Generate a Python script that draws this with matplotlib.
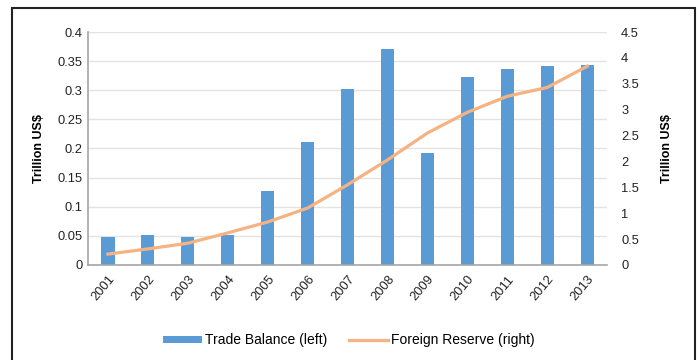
import numpy as np
import matplotlib.pyplot as plt
from matplotlib.patches import Rectangle

plt.rcParams['font.family'] = ['Liberation Sans', 'DejaVu Sans']

years = ['2001', '2002', '2003', '2004', '2005', '2006', '2007',
         '2008', '2009', '2010', '2011', '2012', '2013']
trade_balance = [0.048, 0.052, 0.048, 0.052, 0.127, 0.212, 0.302,
                 0.371, 0.192, 0.322, 0.337, 0.342, 0.343]
foreign_reserve = [0.21, 0.31, 0.42, 0.62, 0.83, 1.10, 1.55,
                   2.03, 2.55, 2.95, 3.26, 3.43, 3.84]

bar_color = '#5B9BD5'
line_color = '#F5B383'

fig = plt.figure(figsize=(6.98, 3.6), dpi=100)
fig.patches.append(Rectangle((12 / 698, -0.1), 683 / 698, 1.1 - 8 / 360,
                             transform=fig.transFigure, fill=False,
                             edgecolor='#222222', linewidth=1.5))

ax = fig.add_axes([0.126, 0.264, 0.744, 0.647])
x = np.arange(len(years))
bars = ax.bar(x, trade_balance, width=0.33, color=bar_color, zorder=2,
              label='Trade Balance (left)')
ax.set_xlim(-0.5, len(years) - 0.5)
ax.set_ylim(0, 0.4)
ax.set_yticks(np.arange(0, 0.401, 0.05))
ax.set_yticklabels(['0', '0.05', '0.1', '0.15', '0.2', '0.25', '0.3', '0.35', '0.4'])
ax.set_xticks(x)
ax.set_xticklabels(years, rotation=50, ha='right', rotation_mode='anchor')
ax.grid(axis='y', color='#E3E3E3', linewidth=1, zorder=0)
ax.tick_params(length=0, labelsize=9.3, pad=4, labelcolor='#222222')
ax.tick_params(axis='x', pad=6)
for s in ['top', 'right']:
    ax.spines[s].set_visible(False)
for s in ['left', 'bottom']:
    ax.spines[s].set_color('#A6A6A6')
    ax.spines[s].set_linewidth(1.2)
ax.set_ylabel('Trillion US$', fontsize=9, fontweight='bold', labelpad=9)

ax2 = ax.twinx()
line, = ax2.plot(x, foreign_reserve, color=line_color, linewidth=2.3,
                 zorder=3, label='Foreign Reserve (right)')
ax2.set_ylim(0, 4.5)
ax2.set_yticks(np.arange(0, 4.51, 0.5))
ax2.set_yticklabels(['0', '0.5', '1', '1.5', '2', '2.5', '3', '3.5', '4', '4.5'])
ax2.tick_params(length=0, labelsize=9.3, pad=10, labelcolor='#222222')
for s in ax2.spines.values():
    s.set_visible(False)
ax2.set_ylabel('Trillion US$', fontsize=9, fontweight='bold', labelpad=16)

fig.legend([bars, line], ['Trade Balance (left)', 'Foreign Reserve (right)'],
           loc='center', bbox_to_anchor=(0.5, 0.055), ncol=2, frameon=False,
           fontsize=10, handlelength=2.8, handleheight=0.45,
           handletextpad=0.2, columnspacing=1.6)

fig.savefig('out.png', dpi=100)
